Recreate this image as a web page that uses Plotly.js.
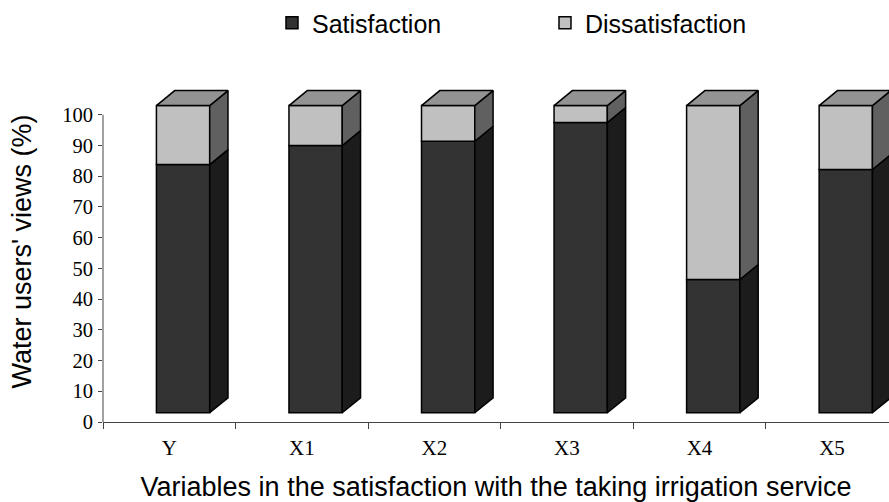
<!DOCTYPE html>
<html><head><meta charset="utf-8">
<script src="https://cdn.plot.ly/plotly-3.0.1.min.js"></script>
<style>html,body{margin:0;padding:0;background:#fff}#chart{width:889px;height:502px}</style>
</head><body><div id="chart"></div>
<script>
// ---- data ----
const categories = ['Y', 'X1', 'X2', 'X3', 'X4', 'X5'];
const satisfaction = [80.8, 87.0, 88.4, 94.5, 43.4, 79.2];
const dissatisfaction = [19.2, 13.0, 11.6, 5.5, 56.6, 20.8];
const yTickVals = [0, 10, 20, 30, 40, 50, 60, 70, 80, 90, 100];

// ---- 3D look (style only) ----
const BASE = 3;      // front face floor offset (axis units)
const OFF = -0.097;  // front face left edge relative to category centre
const W = 0.402;     // front face width (category units)
const DX = 0.138;    // depth offset in x
const DY = 4.87;     // depth offset in y

const idx = categories.map((_, i) => i);
const satTop = satisfaction.map(v => BASE + v);
const disTop = dissatisfaction.map((v, i) => satTop[i] + v);
const left = idx.map(i => i + OFF);
const right = idx.map(i => i + OFF + W);

function sidePolys(bottoms, tops) {
  const xs = [], ys = [];
  idx.forEach(i => {
    const xr = right[i];
    xs.push(xr, xr + DX, xr + DX, xr, xr, null);
    ys.push(bottoms[i], bottoms[i] + DY, tops[i] + DY, tops[i], bottoms[i], null);
  });
  return {xs, ys};
}
function topPolys(tops) {
  const xs = [], ys = [];
  idx.forEach(i => {
    const xl = left[i], xr = right[i], t = tops[i];
    xs.push(xl, xl + DX, xr + DX, xr, xl, null);
    ys.push(t, t + DY, t + DY, t, t, null);
  });
  return {xs, ys};
}
const satSide = sidePolys(idx.map(() => BASE), satTop);
const disSide = sidePolys(satTop, disTop);
const tops = topPolys(disTop);

const edge = {color: '#000', width: 1.5};
const traces = [
  {type: 'bar', name: 'Satisfaction', x: idx, y: satisfaction, base: BASE,
   width: W, offset: OFF, marker: {color: '#333333', line: edge}, hoverinfo: 'y'},
  {type: 'bar', name: 'Dissatisfaction', x: idx, y: dissatisfaction, base: satTop,
   width: W, offset: OFF, marker: {color: '#c0c0c0', line: edge}, hoverinfo: 'y'},
  {type: 'scatter', x: satSide.xs, y: satSide.ys, mode: 'lines', fill: 'toself',
   fillcolor: '#1c1c1c', line: edge, showlegend: false, hoverinfo: 'skip'},
  {type: 'scatter', x: disSide.xs, y: disSide.ys, mode: 'lines', fill: 'toself',
   fillcolor: '#606060', line: edge, showlegend: false, hoverinfo: 'skip'},
  {type: 'scatter', x: tops.xs, y: tops.ys, mode: 'lines', fill: 'toself',
   fillcolor: '#939393', line: edge, showlegend: false, hoverinfo: 'skip'}
];

const layout = {
  width: 889, height: 502,
  margin: {l: 103, r: 0, t: 80, b: 80},
  paper_bgcolor: '#fff', plot_bgcolor: '#fff',
  barmode: 'overlay',
  showlegend: true,
  legend: {orientation: 'h', x: 0.215, xanchor: 'left', y: 1.238, yanchor: 'top',
           font: {family: 'Liberation Sans, Arial, sans-serif', size: 25, color: '#000'},
           entrywidth: 228, traceorder: 'normal'},
  xaxis: {range: [-0.5, 5.43], tickvals: idx, ticktext: categories, ticks: '',
          showgrid: false, zeroline: false, showline: true, linecolor: '#444', linewidth: 1,
          ticklabelstandoff: 7,
          minor: {tickvals: [-0.5, 0.5, 1.5, 2.5, 3.5, 4.5, 5.5], ticks: 'outside', ticklen: 6,
                  tickcolor: '#444', tickwidth: 1, showgrid: false},
          tickfont: {family: 'Liberation Serif, Times New Roman, serif', size: 21, color: '#000'},
          title: {text: 'Variables in the satisfaction with the taking irrigation service',
                  font: {family: 'Liberation Sans, Arial, sans-serif', size: 27, color: '#000'},
                  standoff: 26}},
  yaxis: {range: [0, 111], tickvals: yTickVals, ticks: 'outside', ticklen: 4,
          tickcolor: '#444', showgrid: false, zeroline: false, showline: false,
          ticklabelstandoff: 1,
          tickfont: {family: 'Liberation Serif, Times New Roman, serif', size: 20.5, color: '#000'},
          title: {text: "Water users' views (%)",
                  font: {family: 'Liberation Sans, Arial, sans-serif', size: 27, color: '#000'},
                  standoff: 22}},
  shapes: [{type: 'line', xref: 'paper', yref: 'y', x0: 0, x1: 0, y0: 0, y1: 100,
            line: {color: '#444', width: 1}}]
};

Plotly.newPlot('chart', traces, layout, {displayModeBar: false, staticPlot: true});
</script>
</body></html>
